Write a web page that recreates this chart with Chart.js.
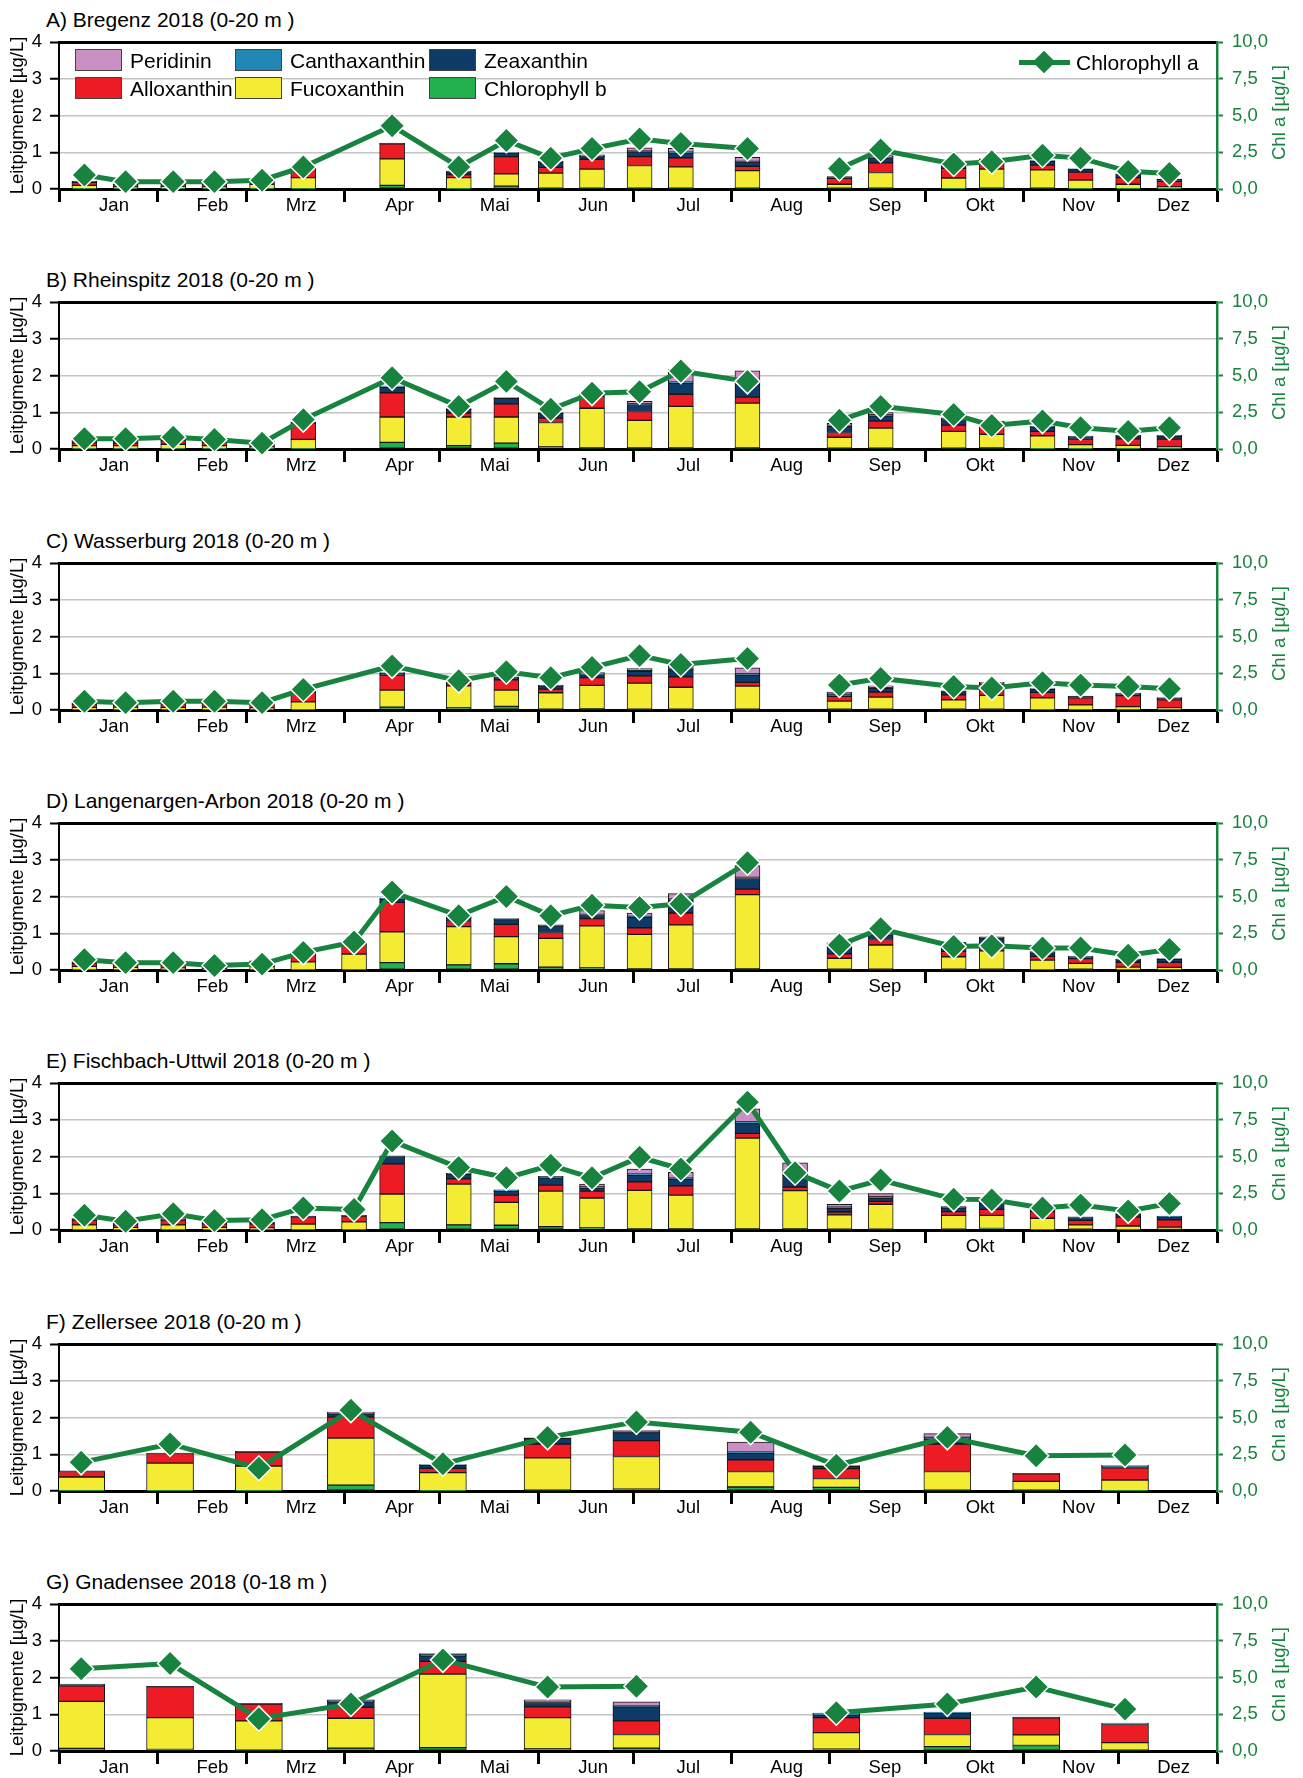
<!DOCTYPE html>
<html>
<head>
<meta charset="utf-8">
<title>Leitpigmente und Chlorophyll a 2018</title>
<script src="https://cdn.jsdelivr.net/npm/chart.js@4.4.1/dist/chart.umd.min.js"></script>
<style>
  html, body { margin: 0; padding: 0; background: #fff; }
  body { position: relative; width: 1303px; height: 1778px; overflow: hidden;
         font-family: 'Liberation Sans', Arial, sans-serif; color: #000; }
  .panel-title { position: absolute; left: 46px; font-size: 21px; line-height: 20px; white-space: pre; }
  canvas.panel { position: absolute; left: 0; }
  .lg-swatch { position: absolute; width: 45px; height: 20px; border: 1px solid #444; }
  .lg-text { position: absolute; font-size: 21px; line-height: 22px; white-space: pre; }
  .lg-line { position: absolute; height: 5px; }
  .lg-diamond { position: absolute; width: 16px; height: 16px; transform: rotate(45deg); }
</style>
</head>
<body>
<script>
// ---------- data ----------
const monthLabels = ['Jan', 'Feb', 'Mrz', 'Apr', 'Mai', 'Jun', 'Jul', 'Aug', 'Sep', 'Okt', 'Nov', 'Dez'];
const monthStarts = ['01-01', '02-01', '03-01', '04-01', '05-01', '06-01', '07-01', '08-01', '09-01', '10-01', '11-01', '12-01', '12-32'];

// stacking order, bottom to top
const pigmentNames = ['Chlorophyll b', 'Fucoxanthin', 'Alloxanthin', 'Zeaxanthin', 'Canthaxanthin', 'Peridinin'];

// Bregenz
const bregenzDates  = ['01-09','01-22','02-06','02-19','03-06','03-19','04-16','05-07','05-22','06-05','06-18','07-03','07-16','08-06','08-21','09-04','09-17','10-10','10-22','11-07','11-19','12-04','12-17'];
const bregenzChlB   = [.01,.01,.01,.01,.01,.01,.10,.01,.08,.02,.02,.02,.02,.02,null,.02,.02,.01,.02,.02,.01,.01,.01];
const bregenzFuco   = [.09,.05,.06,.05,.12,.30,.72,.30,.33,.41,.52,.62,.58,.48,null,.11,.43,.29,.52,.50,.23,.12,.05];
const bregenzAllo   = [.08,.06,.07,.08,.12,.26,.41,.08,.47,.16,.27,.24,.25,.12,null,.16,.26,.26,.17,.13,.22,.18,.15];
const bregenzZea    = [.03,.02,.02,.02,.03,.02,.02,.08,.10,.14,.07,.13,.13,.12,null,.05,.14,.07,.09,.10,.08,.08,.05];
const bregenzCantha = [0,0,0,0,0,0,0,.02,.01,0,.02,.02,.02,.01,null,0,.02,.01,.02,.02,.01,.02,.01];
const bregenzPeri   = [0,0,0,0,0,0,0,0,0,.02,.03,.09,.11,.11,null,0,.04,0,0,0,0,0,0];
const bregenzChlA   = [0.95,0.5,0.5,0.5,0.6,1.5,4.3,1.5,3.3,2.1,2.75,3.4,3.1,2.75,null,1.4,2.65,1.7,1.85,2.3,2.1,1.2,1.05];

// Rheinspitz
const rheinDates  = bregenzDates;
const rheinChlB   = [.01,.01,.01,.01,.01,.01,.18,.09,.16,.06,.03,.03,.03,.03,null,.02,.02,.02,.03,.01,.01,.01,.01];
const rheinFuco   = [.08,.08,.12,.08,.05,.25,.69,.78,.71,.66,1.08,.75,1.13,1.22,null,.30,.55,.46,.37,.35,.11,.09,.05];
const rheinAllo   = [.08,.07,.10,.10,.10,.45,.66,.11,.36,.12,.32,.24,.33,.16,null,.13,.19,.17,.22,.12,.15,.18,.21];
const rheinZea    = [.05,.06,.03,.03,.04,.02,.15,.10,.15,.13,.07,.19,.30,.36,null,.17,.14,.12,.12,.12,.06,.07,.08];
const rheinCantha = [0,0,0,0,0,0,.02,.02,.02,.02,.01,.02,.03,.03,null,.02,.03,.02,.02,.02,.02,.02,.02];
const rheinPeri   = [.01,.01,0,0,0,0,.02,0,0,0,.02,.07,.34,.33,null,.06,.06,.06,0,0,0,0,0];
const rheinChlA   = [0.7,0.7,0.8,0.65,0.4,2.0,4.85,2.9,4.6,2.7,3.8,3.9,5.3,4.6,null,1.95,2.9,2.35,1.6,1.9,1.45,1.2,1.45];

// Wasserburg
const wasserDates  = bregenzDates;
const wasserChlB   = [.01,.01,.01,.01,.01,.01,.08,.06,.10,.02,.03,.02,.02,.02,null,.02,.02,.02,.02,.01,.01,.01,.01];
const wasserFuco   = [.06,.07,.06,.07,.05,.21,.46,.60,.44,.45,.64,.71,.60,.63,null,.22,.33,.26,.38,.32,.13,.08,.05];
const wasserAllo   = [.09,.07,.10,.10,.11,.26,.41,.07,.28,.10,.21,.20,.28,.10,null,.13,.14,.13,.16,.15,.19,.30,.22];
const wasserZea    = [.03,.03,.03,.04,.03,.03,.05,.03,.06,.09,.08,.12,.20,.20,null,.05,.10,.09,.14,.08,.04,.05,.04];
const wasserCantha = [0,0,0,0,0,0,.02,.01,.02,.02,.02,.02,.03,.03,null,.01,.02,.02,.03,.02,.01,.02,.02];
const wasserPeri   = [.01,0,0,0,0,.01,0,0,0,0,.04,.06,.12,.17,null,.06,.05,0,.02,0,0,0,0];
const wasserChlA   = [0.6,0.5,0.6,0.6,0.5,1.4,3.0,2.0,2.6,2.2,2.9,3.7,3.1,3.5,null,1.7,2.15,1.6,1.5,1.85,1.7,1.6,1.45];

// Langenargen-Arbon
const langenDates  = ['01-09','01-22','02-06','02-19','03-06','03-19','04-04','04-16','05-07','05-22','06-05','06-18','07-03','07-16','08-06','08-21','09-04','09-17','10-10','10-22','11-07','11-19','12-04','12-17'];
const langenChlB   = [.01,.01,.01,.01,.01,.01,.01,.20,.14,.17,.08,.06,.03,.03,.03,null,.02,.02,.02,.02,.01,.02,.01,.01];
const langenFuco   = [.09,.06,.04,.02,.08,.21,.42,.84,1.04,.74,.78,1.14,.94,1.20,2.02,null,.30,.66,.34,.50,.26,.16,.07,.06];
const langenAllo   = [.08,.07,.08,.07,.10,.22,.33,.80,.14,.33,.16,.20,.18,.32,.15,null,.12,.15,.15,.15,.10,.13,.13,.14];
const langenZea    = [.05,.04,.03,.02,.06,.03,.03,.09,.11,.13,.18,.08,.28,.35,.29,null,.23,.13,.21,.20,.10,.05,.07,.08];
const langenCantha = [0,0,0,0,0,0,0,.02,.03,.03,.03,.03,.03,.03,.03,null,.03,.03,.03,.03,.03,.02,.02,.02];
const langenPeri   = [0,0,0,0,0,0,0,0,0,0,0,.11,.09,.15,.32,null,.04,.04,0,0,0,0,0,0];
const langenChlA   = [0.7,0.5,0.5,0.3,0.4,1.2,1.9,5.3,3.7,5.0,3.7,4.4,4.25,4.5,7.3,null,1.7,2.8,1.6,1.65,1.5,1.5,1.0,1.4];

// Fischbach-Uttwil
const fischDates  = ['01-09','01-22','02-06','02-19','03-06','03-19','04-04','04-16','05-07','05-22','06-05','06-18','07-03','07-16','08-06','08-21','09-04','09-17','10-10','10-22','11-07','11-19','12-04','12-17'];
const fischChlB   = [.01,.01,.01,.01,.01,.01,.01,.20,.14,.13,.09,.06,.03,.03,.03,.03,.02,.02,.02,.04,.01,.02,.01,.02];
const fischFuco   = [.13,.06,.13,.06,.05,.15,.21,.78,1.11,.62,.97,.81,1.05,.92,2.47,1.04,.39,.68,.38,.36,.31,.12,.10,.06];
const fischAllo   = [.13,.07,.13,.10,.11,.20,.16,.82,.14,.20,.16,.19,.23,.25,.13,.10,.08,.08,.10,.16,.18,.12,.24,.20];
const fischZea    = [.04,.04,.04,.04,.04,.02,.02,.20,.13,.10,.20,.08,.18,.18,.27,.32,.10,.09,.10,.17,.10,.08,.07,.08];
const fischCantha = [0,0,0,0,0,0,0,.02,.02,.04,.04,.03,.03,.03,.04,.04,.03,.03,.04,.04,.03,.02,.03,.02];
const fischPeri   = [0,0,0,0,0,0,0,0,0,0,0,.08,.14,.16,.36,.30,.08,.09,0,0,0,0,0,0];
const fischChlA   = [1.0,0.6,1.1,0.65,0.7,1.5,1.4,6.05,4.25,3.55,4.4,3.55,4.95,4.15,8.7,3.9,2.65,3.4,2.1,2.05,1.5,1.7,1.3,1.8];

// Zellersee
const zellerDates  = ['01-08','02-05','03-05','04-03','05-02','06-04','07-02','08-07','09-03','10-08','11-05','12-03'];
const zellerChlB   = [.01,.01,.01,.16,.01,.02,.05,.11,.10,.02,.02,.01];
const zellerFuco   = [.37,.75,.67,1.28,.49,.88,.89,.42,.24,.51,.24,.29];
const zellerAllo   = [.15,.26,.38,.57,.12,.38,.43,.32,.27,.75,.21,.33];
const zellerZea    = [.02,.01,.02,.09,.08,.15,.22,.18,.06,.14,.01,.03];
const zellerCantha = [0,0,0,.03,.02,.02,.03,.03,.02,.04,0,.02];
const zellerPeri   = [0,0,0,.02,0,0,.03,.27,0,.10,0,.02];
const zellerChlA   = [1.95,3.2,1.55,5.5,1.85,3.65,4.7,4.0,1.75,3.65,2.4,2.45];

// Gnadensee
const gnadenDates  = ['01-08','02-05','03-05','04-03','05-02','06-04','07-02','08-07','09-03','10-08','11-05','12-03'];
const gnadenChlB   = [.07,.04,.02,.08,.09,.06,.08,null,.05,.12,.15,.02];
const gnadenFuco   = [1.28,.87,.80,.81,2.0,.85,.37,null,.45,.33,.29,.21];
const gnadenAllo   = [.42,.84,.46,.30,.35,.29,.37,null,.41,.44,.46,.49];
const gnadenZea    = [.03,.01,.02,.15,.15,.12,.38,null,.07,.14,.02,.02];
const gnadenCantha = [.02,0,0,.03,.04,.04,.02,null,.03,.03,0,0];
const gnadenPeri   = [0,0,0,.02,.02,.03,.12,null,.02,0,0,.02];
const gnadenChlA   = [5.6,5.95,2.2,3.2,6.2,4.35,4.4,null,2.6,3.2,4.35,2.85];

const panels = [
  { title: 'A) Bregenz 2018 (0-20 m )', dates: bregenzDates, series: [bregenzChlB, bregenzFuco, bregenzAllo, bregenzZea, bregenzCantha, bregenzPeri], chlA: bregenzChlA, wide: false },
  { title: 'B) Rheinspitz 2018 (0-20 m )', dates: rheinDates, series: [rheinChlB, rheinFuco, rheinAllo, rheinZea, rheinCantha, rheinPeri], chlA: rheinChlA, wide: false },
  { title: 'C) Wasserburg 2018 (0-20 m )', dates: wasserDates, series: [wasserChlB, wasserFuco, wasserAllo, wasserZea, wasserCantha, wasserPeri], chlA: wasserChlA, wide: false },
  { title: 'D) Langenargen-Arbon 2018 (0-20 m )', dates: langenDates, series: [langenChlB, langenFuco, langenAllo, langenZea, langenCantha, langenPeri], chlA: langenChlA, wide: false },
  { title: 'E) Fischbach-Uttwil 2018 (0-20 m )', dates: fischDates, series: [fischChlB, fischFuco, fischAllo, fischZea, fischCantha, fischPeri], chlA: fischChlA, wide: false },
  { title: 'F) Zellersee 2018 (0-20 m )', dates: zellerDates, series: [zellerChlB, zellerFuco, zellerAllo, zellerZea, zellerCantha, zellerPeri], chlA: zellerChlA, wide: true },
  { title: 'G) Gnadensee 2018 (0-18 m )', dates: gnadenDates, series: [gnadenChlB, gnadenFuco, gnadenAllo, gnadenZea, gnadenCantha, gnadenPeri], chlA: gnadenChlA, wide: true }
];

// ---------- styles ----------
const FONT = "'Liberation Sans', Arial, sans-serif";
const GREEN = '#17833f';
const pigmentColors = ['#22b14c', '#f4ec32', '#ed1c24', '#0e3a68', '#2187b4', '#c990c4'];
const PANEL_STEP = 260.4;
const FIRST_TOP = 41.7;
const PAD_TOP = 22;
const PLOT_H = 147;
const XAXIS_H = 40;

Chart.defaults.font.family = FONT;

// day of year (0 = 1 January 2018); '12-32' gives the year end
function dayOfYear(md) {
  const [m, d] = md.split('-').map(Number);
  return Math.round((Date.UTC(2018, m - 1, d) - Date.UTC(2018, 0, 1)) / 864e5);
}

// vertical axis title on the right, reading bottom to top
const chlTitlePlugin = {
  id: 'chlTitle',
  afterDraw(chart) {
    const s = chart.scales.y2;
    const a = chart.chartArea;
    const ctx = chart.ctx;
    ctx.save();
    ctx.translate(s.right - 23, (a.top + a.bottom) / 2 - 3);
    ctx.rotate(-Math.PI / 2);
    ctx.font = '18.5px ' + FONT;
    ctx.fillStyle = GREEN;
    ctx.textAlign = 'center';
    ctx.textBaseline = 'middle';
    ctx.fillText('Chl a [µg/L]', 0, 0);
    ctx.restore();
  }
};

function tickFont() { return { family: FONT, size: 18.5 }; }

function buildPanel(p, idx) {
  const chartTop = Math.round(FIRST_TOP + PANEL_STEP * idx);

  const t = document.createElement('div');
  t.className = 'panel-title';
  t.style.top = (chartTop - 32.3) + 'px';
  t.textContent = p.title;
  document.body.appendChild(t);

  const cv = document.createElement('canvas');
  cv.className = 'panel';
  cv.width = 1303;
  cv.height = PAD_TOP + PLOT_H + XAXIS_H;
  cv.style.top = (chartTop - PAD_TOP) + 'px';
  document.body.appendChild(cv);

  const xs = p.dates.map(dayOfYear);
  const datasets = p.series.map((vals, k) => ({
    type: 'bar',
    label: pigmentNames[k],
    data: xs.map((x, i) => ({ x: x, y: vals[i] })),
    backgroundColor: pigmentColors[k],
    borderColor: '#161616',
    borderWidth: 1,
    borderSkipped: false,
    barThickness: p.wide ? 47 : 25,
    stack: 'pigments',
    xAxisID: 'x',
    yAxisID: 'y',
    order: 2
  }));
  datasets.push({
    type: 'line',
    label: 'Chlorophyll a',
    data: xs.map((x, i) => ({ x: x, y: p.chlA[i] })),
    xAxisID: 'x',
    yAxisID: 'y2',
    borderColor: GREEN,
    borderWidth: 5,
    tension: 0,
    spanGaps: false,
    pointStyle: 'rectRot',
    pointRadius: 12.5,
    pointBackgroundColor: GREEN,
    pointBorderColor: '#ffffff',
    pointBorderWidth: 1.5,
    clip: false,
    order: 0
  });

  new Chart(cv, {
    data: { datasets: datasets },
    plugins: [chlTitlePlugin],
    options: {
      responsive: false,
      animation: false,
      devicePixelRatio: 1,
      layout: { padding: { top: PAD_TOP, left: 0, right: 0, bottom: 0 } },
      plugins: { legend: { display: false }, tooltip: { enabled: false }, title: { display: false } },
      scales: {
        x: {
          type: 'linear', position: 'bottom', min: 0, max: 365, offset: false, stacked: true,
          afterBuildTicks: ax => { ax.ticks = monthStarts.map(md => ({ value: dayOfYear(md) })); },
          afterFit: ax => { ax.height = XAXIS_H; },
          ticks: {
            autoSkip: false, maxRotation: 0, minRotation: 0, labelOffset: 55, padding: -7,
            color: '#000', font: tickFont(),
            callback: (v, i) => (i < monthLabels.length ? monthLabels[i] : '')
          },
          grid: { display: true, drawOnChartArea: false, drawTicks: true, tickLength: 13, tickWidth: 3,
                  tickColor: '#000', color: '#000', offset: false },
          border: { display: true, color: '#000', width: 3 }
        },
        y: {
          type: 'linear', position: 'left', min: 0, max: 4, stacked: true,
          afterFit: ax => { ax.width = 59; },
          ticks: { stepSize: 1, color: '#000', font: tickFont(), padding: 8 },
          grid: {
            color: c => (c.tick.value === 4 ? '#000' : (c.tick.value === 0 ? 'rgba(0,0,0,0)' : '#c4c4c4')),
            lineWidth: c => (c.tick.value === 4 ? 3 : 1.5),
            tickLength: 9, tickWidth: 2, tickColor: '#000'
          },
          border: { color: '#000', width: 2 },
          title: { display: true, text: 'Leitpigmente [µg/L]', color: '#000', font: tickFont(), padding: { top: 7, bottom: 0 } }
        },
        y2: {
          type: 'linear', position: 'right', min: 0, max: 10,
          afterFit: ax => { ax.width = 86; },
          ticks: { stepSize: 2.5, color: GREEN, font: tickFont(), padding: 9,
                   callback: v => v.toFixed(1).replace('.', ',') },
          grid: { drawOnChartArea: false, tickLength: 6, tickWidth: 2, tickColor: GREEN, color: GREEN },
          border: { color: GREEN, width: 2.5 }
        }
      }
    }
  });
}

panels.forEach(buildPanel);

// legend inside the first panel
(function buildLegend() {
  const rows = [['Peridinin', 'Canthaxanthin', 'Zeaxanthin'], ['Alloxanthin', 'Fucoxanthin', 'Chlorophyll b']];
  const colX = [75, 235, 429];
  const rowY = [49, 77];
  rows.forEach((row, r) => row.forEach((name, c) => {
    const sw = document.createElement('div');
    sw.className = 'lg-swatch';
    sw.style.left = colX[c] + 'px';
    sw.style.top = rowY[r] + 'px';
    sw.style.background = pigmentColors[pigmentNames.indexOf(name)];
    document.body.appendChild(sw);
    const tx = document.createElement('div');
    tx.className = 'lg-text';
    tx.style.left = (colX[c] + 55) + 'px';
    tx.style.top = (rowY[r] + 1) + 'px';
    tx.textContent = name;
    document.body.appendChild(tx);
  }));
  const ln = document.createElement('div');
  ln.className = 'lg-line';
  ln.style.left = '1019px'; ln.style.top = '60px'; ln.style.width = '51px'; ln.style.background = GREEN;
  document.body.appendChild(ln);
  const dm = document.createElement('div');
  dm.className = 'lg-diamond';
  dm.style.left = '1036px'; dm.style.top = '54px'; dm.style.background = GREEN;
  document.body.appendChild(dm);
  const tx = document.createElement('div');
  tx.className = 'lg-text';
  tx.style.left = '1076px'; tx.style.top = '52px';
  tx.textContent = 'Chlorophyll a';
  document.body.appendChild(tx);
})();
</script>
</body>
</html>
